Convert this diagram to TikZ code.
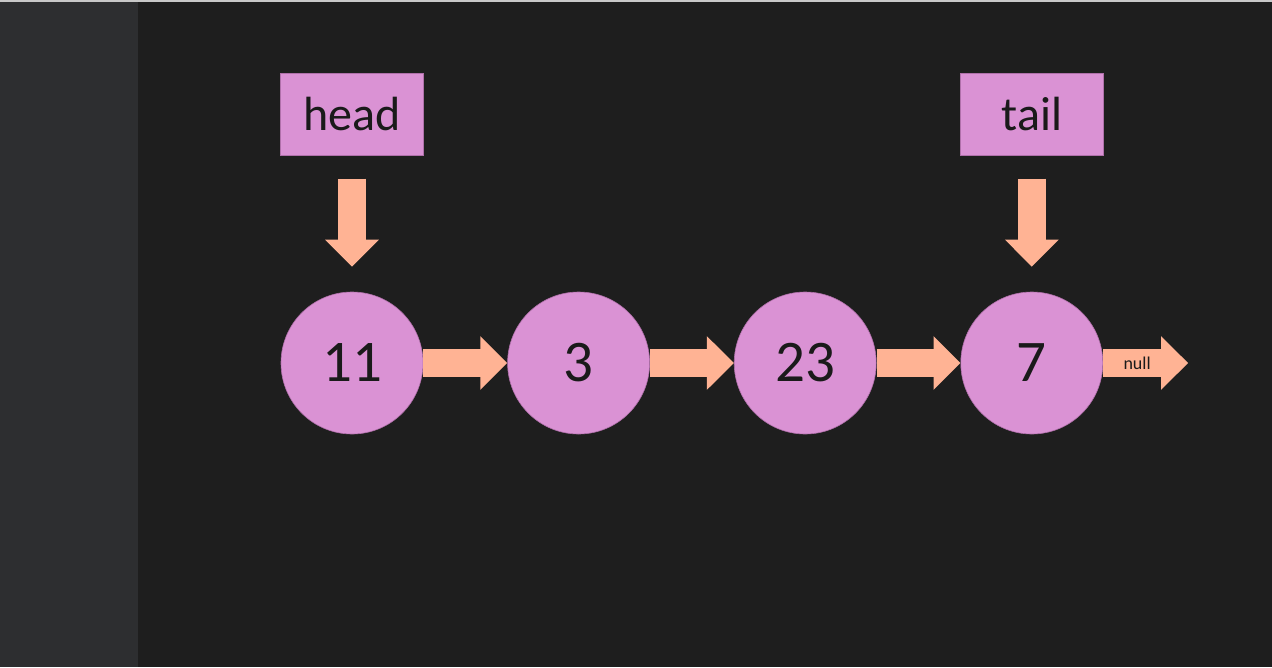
\documentclass[tikz,border=0pt]{standalone}
\usepackage{fontspec}
\setmainfont{Carlito}
\usetikzlibrary{arrows.meta,positioning}
\definecolor{bgmain}{HTML}{1E1E1E}
\definecolor{bgside}{HTML}{2D2E30}
\definecolor{topline}{HTML}{C8C8C8}
\definecolor{nodepink}{HTML}{DA92D4}
\definecolor{nodeedge}{HTML}{B070AA}
\definecolor{arrowpeach}{HTML}{FFB394}
\definecolor{inktext}{HTML}{1A1A1A}
\tikzset{
    listnode/.style={circle, fill=nodepink, draw=nodeedge, line width=0.6pt,
        minimum size=142pt, inner sep=0pt, text=inktext,
        font=\fontsize{59}{60}\selectfont},
    ptrbox/.style={rectangle, fill=nodepink, draw=nodeedge, line width=0.6pt,
        minimum width=143pt, minimum height=82pt, inner sep=0pt, text=inktext,
        font=\fontsize{48}{50}\selectfont},
    link/.style={draw=arrowpeach, line width=28pt,
        -{Triangle[length=27pt,width=52pt]}},
    ptrlink/.style={link, shorten <=23pt, shorten >=25pt}
}
\begin{document}
\begin{tikzpicture}[x=1pt,y=-1pt]
\useasboundingbox (0,0) rectangle (1272,667);
\fill[bgmain] (0,0) rectangle (1272,667);
\fill[bgside] (0,0) rectangle (138,667);
\fill[topline] (0,0) rectangle (1272,2);

% list nodes
\node[listnode] (n11) at (352,363) {11};
\node[listnode, right=84pt of n11] (n3) {3};
\node[listnode, right=84pt of n3] (n23) {23};
\node[listnode, right=84pt of n23] (n7) {7};

% head and tail pointers
\node[ptrbox, above=136pt of n11] (head) {head};
\node[ptrbox, above=136pt of n7] (tail) {tail};

\draw[ptrlink] (head.south) -- (n11.north);
\draw[ptrlink] (tail.south) -- (n7.north);

% next links
\draw[link] (n11.east) -- (n3.west);
\draw[link] (n3.east) -- (n23.west);
\draw[link] (n23.east) -- (n7.west);

\coordinate[right=85pt of n7.east] (nullend);
\draw[link] (n7.east) -- (nullend)
    node[pos=0.4, text=inktext, font=\fontsize{18}{20}\selectfont] (nulltext) {null};
\end{tikzpicture}
\end{document}
